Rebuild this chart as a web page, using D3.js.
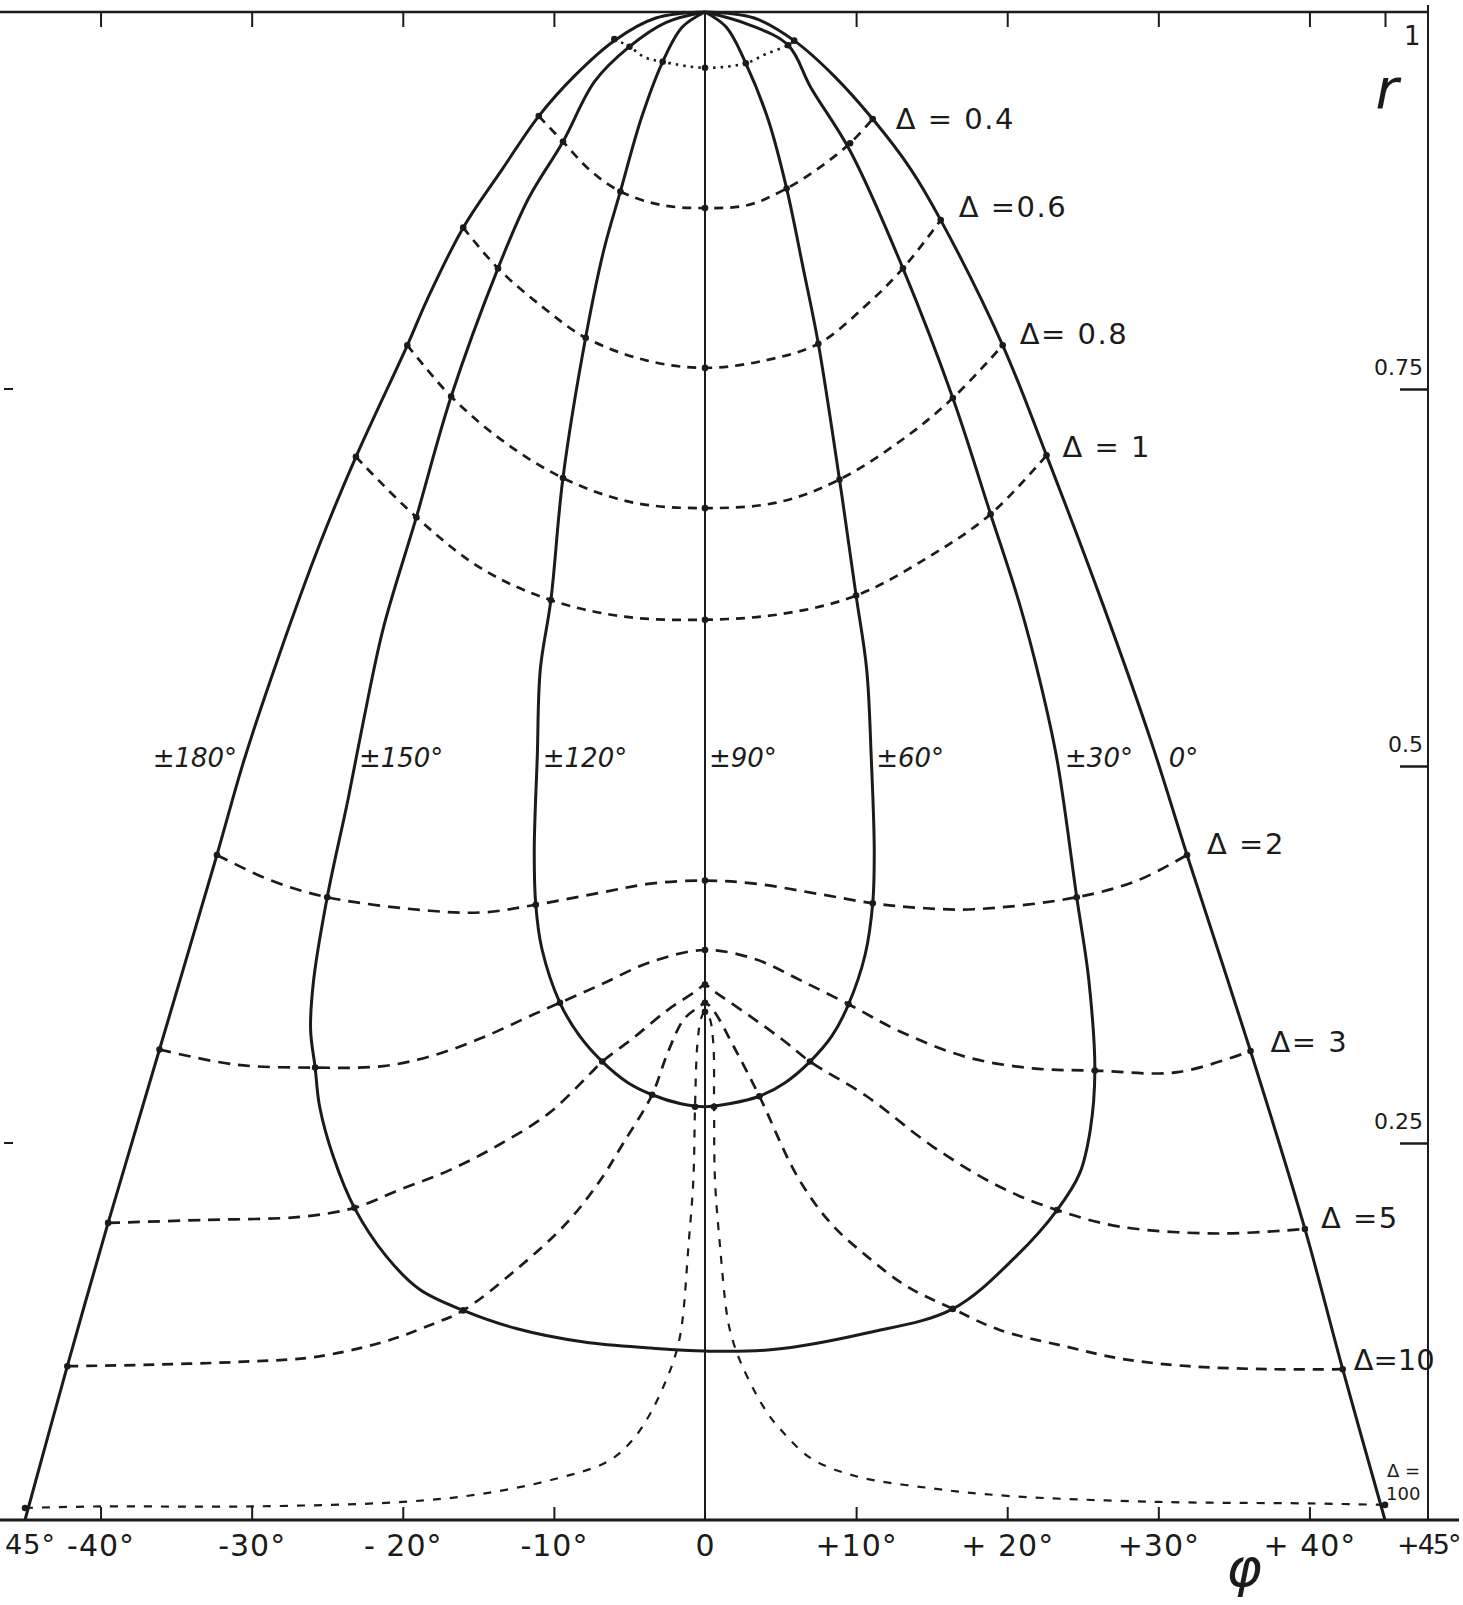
<!DOCTYPE html>
<html>
<head>
<meta charset="utf-8">
<script src="https://cdn.jsdelivr.net/npm/d3@7/dist/d3.min.js"></script>
<style>
  body { margin: 0; background: #fff; }
  svg { display: block; }
  text { font-family: "DejaVu Sans", sans-serif; fill: #1b1b1b; }
</style>
</head>
<body>
<div id="chart"></div>
<script>
// axis values
const phiTicks = [-45, -40, -30, -20, -10, 0, 10, 20, 30, 40, 45];
const phiLabels = ["45°", "-40°", "-30°", "- 20°", "-10°", "0", "+10°", "+ 20°", "+30°", "+ 40°", "+45°"];
const topTicks = [-40, -30, -20, -10, 10, 20, 30, 40, 45];
const rTicks = [0.25, 0.5, 0.75];
const rLabels = ["0.25", "0.5", "0.75"];

// constant phase curves [phi, r]
const phase180 = [[0,1],[-3.25,0.996],[-6.0,0.981],[-8.6,0.958],[-11.0,0.931],[-13.4,0.896],[-16.0,0.857],
  [-18.4,0.809],[-19.7,0.779],[-23.1,0.705],[-25.5,0.647],[-28.2,0.573],[-30.5,0.504],[-32.3,0.441],
  [-36.1,0.312],[-39.5,0.197],[-42.2,0.102],[-45,0]];
const phase0 = [[0,1],[3.25,0.996],[5.9,0.981],[8.5,0.958],[11.1,0.929],[13.6,0.896],[15.6,0.862],
  [19.7,0.779],[22.6,0.706],[26.3,0.608],[29.5,0.517],[31.9,0.441],[36.1,0.311],
  [39.7,0.193],[42.2,0.100],[45,0]];
// ±150 (left) running into ±30 (right)
const phase150_30 = [[0,1],[-2.6,0.993],[-5.0,0.977],[-7.3,0.954],[-9.4,0.914],[-11.7,0.876],[-13.7,0.830],
  [-16.8,0.745],[-19.1,0.665],[-21.3,0.591],[-22.6,0.530],[-23.6,0.479],[-25.0,0.413],[-25.9,0.358],
  [-26.1,0.325],[-25.8,0.300],[-25.5,0.274],[-24.6,0.241],[-23.2,0.207],[-21.1,0.175],[-18.9,0.153],
  [-16.0,0.139],[-12.5,0.127],[-8.0,0.118],[-3.6,0.114],[0,0.112],[4.5,0.113],[10.7,0.124],
  [16.4,0.140],[20.6,0.175],[23.3,0.2055],[24.8,0.230],[25.5,0.259],[25.8,0.298],[25.4,0.358],
  [24.6,0.413],[23.3,0.504],[22.2,0.555],[20.8,0.608],[18.9,0.667],[16.4,0.744],[13.1,0.830],
  [9.6,0.908],[7.0,0.950],[5.5,0.978],[2.8,0.992],[0,1]];
// ±120 (left) running into ±60 (right)
const phase120_60 = [[0,1],[-1.5,0.99],[-2.8,0.967],[-4.2,0.930],[-5.6,0.881],[-6.7,0.842],[-7.9,0.784],
  [-9.4,0.691],[-10.2,0.610],[-10.9,0.564],[-11.1,0.506],[-11.3,0.444],[-11.2,0.408],[-10.8,0.379],
  [-9.6,0.343],[-8.3,0.321],[-6.8,0.304],[-5.1,0.290],[-3.5,0.282],[-1.6,0.276],[0,0.274],[1.6,0.276],
  [3.6,0.281],[5.3,0.290],[6.95,0.304],[8.4,0.321],[9.5,0.342],[10.6,0.375],[11.1,0.409],[11.2,0.444],
  [11.0,0.506],[10.7,0.564],[10.0,0.613],[8.9,0.690],[7.5,0.780],[6.5,0.830],[5.4,0.883],[4.2,0.928],
  [2.7,0.966],[1.4,0.99],[0,1]];
const phase90 = [[0,1],[0,0]];

// constant Delta curves [phi, r, dot]
const delta02 = [[-6.0,0.982,1],[-5.0,0.977,1],[-4.0,0.970,0],[-2.8,0.967,1],[0,0.963,1],[2.7,0.966,1],
  [4.0,0.972,0],[5.5,0.978,1],[5.9,0.981,1]];
const delta04 = [[-11.0,0.931,1],[-9.4,0.914,1],[-7.6,0.895,0],[-5.6,0.881,1],[-2.9,0.872,0],[0,0.870,1],
  [2.85,0.872,0],[5.4,0.883,1],[7.6,0.897,0],[9.6,0.913,1],[11.1,0.929,1]];
const delta06 = [[-16.0,0.857,1],[-13.7,0.830,1],[-10.7,0.804,0],[-7.9,0.784,1],[-3.9,0.769,0],[0,0.764,1],
  [4.0,0.769,0],[7.5,0.780,1],[10.5,0.804,0],[13.1,0.830,1],[15.6,0.862,1]];
const delta08 = [[-19.7,0.779,1],[-16.8,0.745,1],[-13.3,0.715,0],[-9.4,0.691,1],[-4.9,0.675,0],[0,0.671,1],
  [4.9,0.675,0],[8.9,0.690,1],[13.0,0.716,0],[16.4,0.744,1],[19.7,0.779,1]];
const delta1 = [[-23.1,0.705,1],[-19.1,0.665,1],[-14.8,0.631,0],[-10.2,0.610,1],[-5.3,0.599,0],[0,0.597,1],
  [5.2,0.601,0],[10.0,0.613,1],[14.7,0.638,0],[18.9,0.667,1],[22.6,0.706,1]];
const delta2 = [[-32.3,0.441,1],[-28.7,0.424,0],[-25.0,0.413,1],[-18.2,0.404,0],[-14.6,0.403,0],
  [-11.2,0.408,1],[-6.9,0.416,0],[-3.6,0.422,0],[0,0.424,1],[3.3,0.422,0],[7.6,0.415,0],[11.1,0.409,1],
  [14.1,0.406,0],[17.8,0.405,0],[24.6,0.413,1],[28.6,0.424,0],[31.9,0.441,1]];
const delta3 = [[-36.1,0.312,1],[-31.1,0.302,0],[-25.8,0.300,1],[-21.3,0.301,0],[-18.0,0.308,0],
  [-14.7,0.320,0],[-11.4,0.335,0],[-9.6,0.343,1],[-6.9,0.355,0],[-3.6,0.370,0],[0,0.378,1],
  [3.3,0.372,0],[6.3,0.358,0],[9.5,0.342,1],[12.9,0.324,0],[17.3,0.307,0],[21.7,0.2995,0],
  [25.8,0.298,1],[31.3,0.297,0],[36.1,0.311,1]];
const delta5 = [[-39.5,0.197,1],[-33.1,0.199,0],[-26.8,0.201,0],[-23.2,0.207,1],[-20.2,0.219,0],
  [-16.9,0.232,0],[-13.6,0.249,0],[-10.3,0.270,0],[-7.6,0.296,0],[-6.8,0.304,1],[-4.7,0.320,0],
  [-2.5,0.338,0],[-0.55,0.351,0],[0,0.355,1],[0.55,0.351,0],[3.0,0.334,0],[5.2,0.318,0],
  [6.95,0.304,1],[10.7,0.281,0],[15.1,0.2475,0],[19.5,0.221,0],[23.3,0.2055,1],[27.5,0.1945,0],
  [34.0,0.190,0],[39.7,0.193,1]];
const delta10 = [[-42.2,0.102,1],[-36.5,0.103,0],[-30.5,0.105,0],[-25.9,0.108,0],[-21.3,0.118,0],
  [-18.0,0.130,0],[-16.0,0.139,1],[-12.5,0.166,0],[-9.15,0.197,0],[-6.95,0.225,0],[-5.4,0.250,0],
  [-3.5,0.282,1],[-2.5,0.309,0],[-1.4,0.332,0],[-0.3,0.341,0],[0,0.343,1],[0.55,0.338,0],
  [1.9,0.314,0],[3.6,0.281,1],[6.1,0.228,0],[8.3,0.197,0],[10.7,0.175,0],[13.35,0.155,0],
  [16.4,0.140,1],[19.5,0.126,0],[23.9,0.115,0],[27.5,0.107,0],[32.0,0.102,0],[37.4,0.100,0],
  [42.2,0.100,1]];
const delta100 = [[-45,0.008,1],[-40,0.009,0],[-30,0.009,0],[-20,0.012,0],[-15,0.017,0],[-10,0.027,0],
  [-6.4,0.039,0],[-4.8,0.053,0],[-3.6,0.071,0],[-2.6,0.092,0],[-2.0,0.108,0],[-1.65,0.122,0],
  [-1.44,0.137,0],[-1.1,0.181,0],[-0.77,0.2255,0],[-0.66,0.274,1],[-0.5,0.316,0],[-0.25,0.333,0],
  [0,0.337,1],[0.3,0.333,0],[0.55,0.316,0],[0.6,0.274,1],[0.66,0.2255,0],[1.0,0.181,0],[1.44,0.137,0],
  [1.75,0.122,0],[2.3,0.106,0],[3.3,0.085,0],[4.2,0.070,0],[5,0.060,0],[7,0.041,0],
  [10,0.029,0],[15,0.021,0],[20,0.016,0],[30,0.012,0],[40,0.011,0],[45,0.010,1]];

const phaseCurves = [phase180, phase0, phase150_30, phase120_60];
const deltaCurves = [
  { name: "0.2", pts: delta02 },
  { name: "0.4", pts: delta04, label: "Δ = 0.4" },
  { name: "0.6", pts: delta06, label: "Δ =0.6" },
  { name: "0.8", pts: delta08, label: "Δ= 0.8" },
  { name: "1", pts: delta1, label: "Δ = 1" },
  { name: "2", pts: delta2, label: "Δ =2" },
  { name: "3", pts: delta3, label: "Δ= 3" },
  { name: "5", pts: delta5, label: "Δ =5" },
  { name: "10", pts: delta10, label: "Δ=10" },
  { name: "100", pts: delta100 }
];
const phaseLabels = ["±180°", "±150°", "±120°", "±90°", "±60°", "±30°", "0°"];

const width = 1463, height = 1605;
const ink = "#1b1b1b";

const x = d3.scaleLinear().domain([-45, 45]).range([25, 1385]);
const y = d3.scaleLinear().domain([0, 1]).range([1520, 12]);
const rightX = 1428;

const svg = d3.select("#chart").append("svg")
  .attr("width", width).attr("height", height);
svg.append("rect").attr("width", width).attr("height", height).attr("fill", "#fff");

const line = d3.line()
  .x(d => x(d[0])).y(d => y(d[1]))
  .curve(d3.curveCatmullRom.alpha(0.5));

// frame
svg.append("line").attr("x1", 0).attr("x2", rightX).attr("y1", y(1)).attr("y2", y(1))
  .attr("stroke", ink).attr("stroke-width", 2.5);
svg.append("line").attr("x1", rightX).attr("x2", rightX).attr("y1", 5).attr("y2", y(0))
  .attr("stroke", ink).attr("stroke-width", 2);
svg.append("line").attr("x1", 0).attr("x2", 1459).attr("y1", y(0)).attr("y2", y(0))
  .attr("stroke", ink).attr("stroke-width", 3);

// bottom axis
const gx = svg.append("g")
  .attr("transform", `translate(0,${y(0)})`)
  .call(d3.axisBottom(x).tickValues(phiTicks).tickSizeInner(-13).tickSizeOuter(0)
    .tickPadding(15).tickFormat((d, i) => phiLabels[i]));
gx.select(".domain").remove();
gx.selectAll(".tick line").attr("stroke", ink).attr("stroke-width", 2)
  .attr("display", d => (d === 0 || Math.abs(d) === 45) ? "none" : null);
gx.selectAll(".tick text")
  .attr("font-size", d => Math.abs(d) === 45 ? 27 : 30)
  .attr("fill", ink).attr("font-family", "DejaVu Sans, sans-serif")
  .attr("letter-spacing", d => d === 45 ? -2 : 1)
  .attr("text-anchor", d => d === 45 ? "end" : "middle")
  .attr("dx", d => d === -45 ? 5 : d === 45 ? 74 : 0);

// top ticks
const gt = svg.append("g")
  .attr("transform", `translate(0,${y(1)})`)
  .call(d3.axisTop(x).tickValues(topTicks).tickSizeInner(-15).tickSizeOuter(0).tickFormat(""));
gt.select(".domain").remove();
gt.selectAll(".tick line").attr("stroke", ink).attr("stroke-width", 2);

// right r axis
const gr = svg.append("g")
  .attr("transform", `translate(${rightX},0)`)
  .call(d3.axisLeft(y).tickValues(rTicks).tickSizeInner(28).tickSizeOuter(0)
    .tickFormat((d, i) => rLabels[i]));
gr.select(".domain").remove();
gr.selectAll(".tick line").attr("stroke", ink).attr("stroke-width", 2.5);
gr.selectAll(".tick text")
  .attr("x", -5).attr("dy", null).attr("y", -15)
  .attr("font-size", 22).attr("fill", ink).attr("font-family", "DejaVu Sans, sans-serif");

// little left-margin marks
svg.selectAll("line.lmark").data([0.75, 0.25]).enter().append("line")
  .attr("class", "lmark")
  .attr("x1", 4).attr("x2", 13).attr("y1", d => y(d)).attr("y2", d => y(d))
  .attr("stroke", ink).attr("stroke-width", 2);

svg.append("text").attr("x", 1404).attr("y", 45).attr("font-size", 26).text("1");
svg.append("text").attr("x", 1387).attr("y", 108)
  .attr("font-family", "DejaVu Serif, serif").attr("font-style", "italic")
  .attr("font-size", 56).attr("text-anchor", "middle").text("r");
svg.append("text").attr("x", 1244).attr("y", 1586)
  .attr("font-family", "DejaVu Serif, serif").attr("font-style", "italic")
  .attr("font-size", 54).attr("text-anchor", "middle").text("φ");

// constant Delta lines
const dashFor = {
  "0.2": "2.5,5", "0.4": "9,7", "0.6": "9,7", "0.8": "9,7", "1": "9,7",
  "2": "12,8", "3": "12,8", "5": "12,8", "10": "11,8", "100": "8,9"
};
const widthFor = { "0.2": 2.6, "100": 2.2 };

const gd = svg.append("g");
gd.selectAll("path").data(deltaCurves).enter().append("path")
  .attr("d", d => line(d.pts))
  .attr("fill", "none").attr("stroke", ink)
  .attr("stroke-width", d => widthFor[d.name] || 2.7)
  .attr("stroke-dasharray", d => dashFor[d.name]);

// constant phase curves
svg.append("g").selectAll("path").data(phaseCurves).enter().append("path")
  .attr("d", line)
  .attr("fill", "none").attr("stroke", ink).attr("stroke-width", 3)
  .attr("stroke-linejoin", "round");
svg.append("path").attr("d", line(phase90))
  .attr("fill", "none").attr("stroke", ink).attr("stroke-width", 2);

// intersection dots
const dots = deltaCurves.flatMap(c => c.pts.filter(p => p[2]));
svg.append("g").selectAll("circle").data(dots).enter().append("circle")
  .attr("cx", d => x(d[0])).attr("cy", d => y(d[1])).attr("r", 3.3).attr("fill", ink);

// Delta labels, placed off the right-hand end of each curve
const labelOffset = {
  "0.4": [23, 0], "0.6": [18, -13], "0.8": [17, -11], "1": [16, -8],
  "2": [20, -11], "3": [20, -9], "5": [16, -11], "10": [11, -9]
};
svg.append("g").selectAll("text").data(deltaCurves.filter(d => d.label)).enter().append("text")
  .attr("x", d => x(d.pts[d.pts.length - 1][0]) + labelOffset[d.name][0])
  .attr("y", d => y(d.pts[d.pts.length - 1][1]) + labelOffset[d.name][1])
  .attr("dominant-baseline", "central")
  .attr("font-size", 29).attr("letter-spacing", d => d.name === "10" ? 0 : 1.5)
  .text(d => d.label);

const end100 = delta100[delta100.length - 1];
svg.append("text").attr("x", x(end100[0]) + 2).attr("y", y(end100[1]) - 34)
  .attr("dominant-baseline", "central").attr("font-size", 18).text("Δ =");
svg.append("text").attr("x", x(end100[0]) + 1).attr("y", y(end100[1]) - 11)
  .attr("dominant-baseline", "central").attr("font-size", 18).text("100");

// phase labels along r = 0.5
const phaseLabelAt = [
  [-30.3, -10, "end"], [-23.3, 6, "start"], [-11.0, 4, "start"], [0, 4, "start"],
  [11.0, 5, "start"], [23.3, 8, "start"], [29.5, 18, "start"]
];
svg.append("g").selectAll("text").data(phaseLabels).enter().append("text")
  .attr("x", (d, i) => x(phaseLabelAt[i][0]) + phaseLabelAt[i][1])
  .attr("y", y(0.505))
  .attr("text-anchor", (d, i) => phaseLabelAt[i][2])
  .attr("dominant-baseline", "central")
  .attr("font-size", 26).attr("font-style", "italic")
  .text(d => d);
</script>
</body>
</html>
